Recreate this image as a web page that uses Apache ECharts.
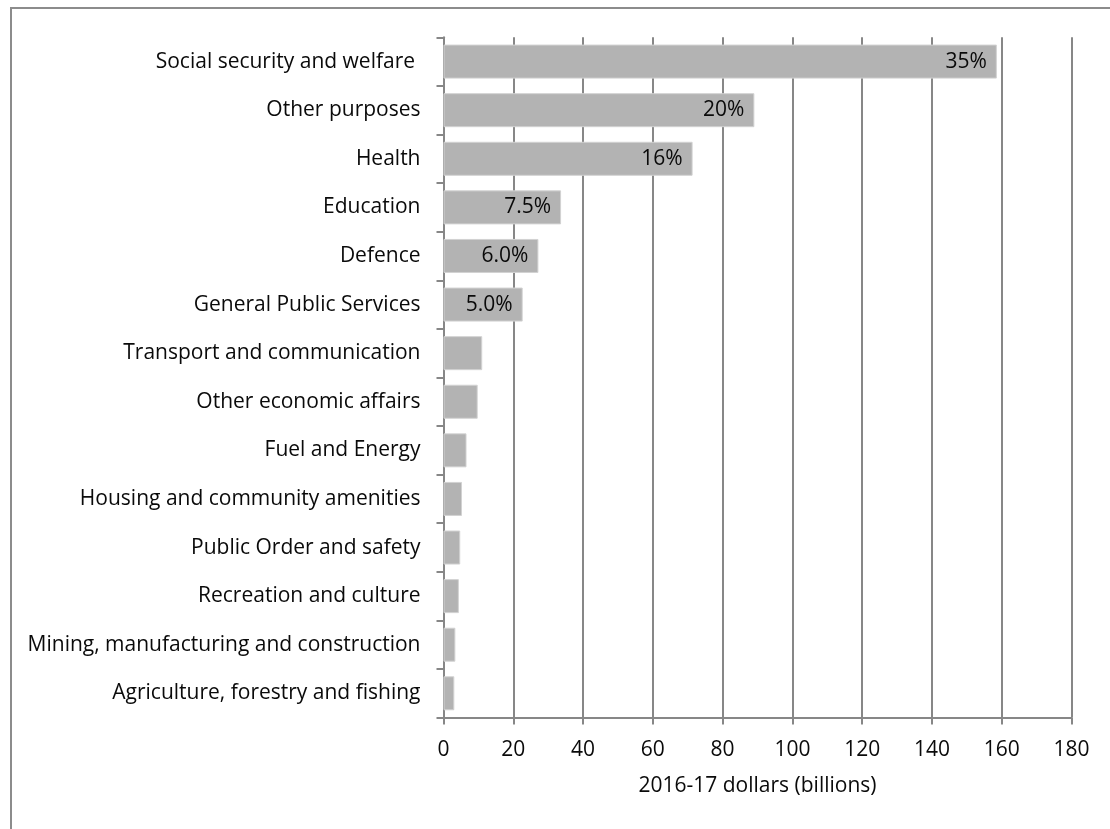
<!DOCTYPE html>
<html>
<head>
<meta charset="utf-8">
<title>Expenses by function</title>
<script src="https://cdn.jsdelivr.net/npm/echarts@6/dist/echarts.min.js"></script>
<style>
  html, body { margin: 0; padding: 0; background: #ffffff; }
  #chart { width: 1110px; height: 829px; }
</style>
</head>
<body>
<div id="chart"></div>
<script>
// Spending by function, 2016-17 dollars (billions)
const categories = [
  'Social security and welfare ',
  'Other purposes',
  'Health',
  'Education',
  'Defence',
  'General Public Services',
  'Transport and communication',
  'Other economic affairs',
  'Fuel and Energy',
  'Housing and community amenities',
  'Public Order and safety',
  'Recreation and culture',
  'Mining, manufacturing and construction',
  'Agriculture, forestry and fishing'
];
const spending = [158.6, 89.1, 71.4, 33.7, 27.2, 22.7, 11.1, 9.8, 6.6, 5.3, 4.8, 4.4, 3.4, 3.1];
// Share of total shown on the six largest items
const shareLabels = ['35%', '20%', '16%', '7.5%', '6.0%', '5.0%', '', '', '', '', '', '', '', ''];
const xTicks = { min: 0, max: 180, interval: 20 };
const xTitle = '2016-17 dollars (billions)';

const FONT = '"Open Sans", "Liberation Sans", sans-serif';
const FONT_SIZE = 21;
const TEXT_COLOR = '#0a0a0a';
const GRID_COLOR = '#878787';

const chart = echarts.init(document.getElementById('chart'), null, { renderer: 'canvas' });

chart.setOption({
  animation: false,
  backgroundColor: '#ffffff',
  textStyle: { fontFamily: FONT },
  graphic: [{
    type: 'rect',
    shape: { x: 11, y: 8, width: 1200, height: 900 },
    style: { fill: 'none', stroke: '#8c8c8c', lineWidth: 2 },
    silent: true
  }],
  grid: { left: 443.5, right: 38.5, top: 37.3, bottom: 111.4, containLabel: false },
  xAxis: {
    type: 'value',
    min: xTicks.min,
    max: xTicks.max,
    interval: xTicks.interval,
    name: xTitle,
    nameLocation: 'middle',
    nameGap: 58,
    nameTextStyle: { fontFamily: FONT, fontSize: FONT_SIZE, color: TEXT_COLOR },
    axisLine: { show: true, lineStyle: { color: GRID_COLOR, width: 2 } },
    axisTick: { show: true, length: 7, lineStyle: { color: GRID_COLOR, width: 2 } },
    axisLabel: { fontFamily: FONT, fontSize: FONT_SIZE, color: TEXT_COLOR, margin: 22 },
    splitLine: { show: true, lineStyle: { color: GRID_COLOR, width: 2 } }
  },
  yAxis: {
    type: 'category',
    data: categories,
    inverse: true,
    axisLine: { show: true, lineStyle: { color: GRID_COLOR, width: 2 } },
    axisTick: { show: true, length: 7, lineStyle: { color: GRID_COLOR, width: 2 } },
    axisLabel: { fontFamily: FONT, fontSize: FONT_SIZE, color: TEXT_COLOR, margin: 23 },
    splitLine: { show: false }
  },
  series: [{
    type: 'bar',
    data: spending,
    barCategoryGap: '30%',
    itemStyle: { color: '#b3b3b3', borderColor: '#d2d2d2', borderWidth: 1 },
    label: {
      show: true,
      position: 'insideRight',
      distance: 10,
      fontFamily: FONT,
      fontSize: FONT_SIZE,
      color: TEXT_COLOR,
      formatter: p => shareLabels[p.dataIndex]
    },
    silent: true
  }]
});
</script>
</body>
</html>
